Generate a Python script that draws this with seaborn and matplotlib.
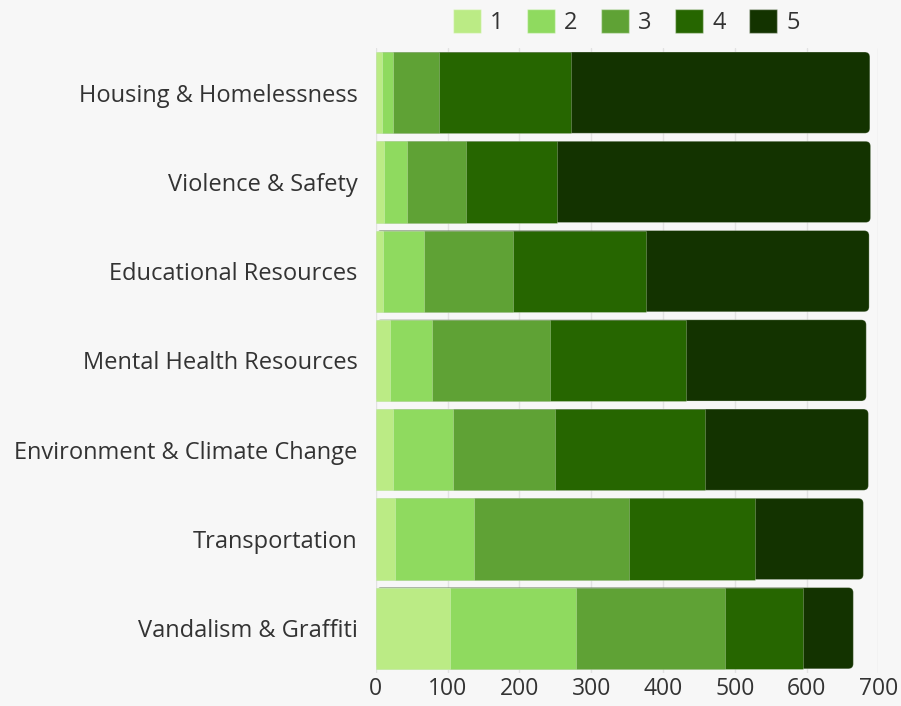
import numpy as np
import pandas as pd
import matplotlib
matplotlib.use("Agg")
import matplotlib.pyplot as plt
import seaborn as sns
from matplotlib.patches import FancyBboxPatch, Patch

categories = ["Housing & Homelessness", "Violence & Safety", "Educational Resources",
              "Mental Health Resources", "Environment & Climate Change",
              "Transportation", "Vandalism & Graffiti"]
ratings = ["1", "2", "3", "4", "5"]
r1 = [9, 12, 10, 20, 24, 27, 103]
r2 = [15, 31, 57, 58, 84, 110, 176]
r3 = [64, 83, 124, 165, 141, 216, 208]
r4 = [184, 126, 185, 189, 209, 175, 108]
r5 = [416, 437, 311, 251, 228, 151, 70]
colors = ["#bbeb85", "#8fda5f", "#5fa235", "#266600", "#133300"]
xticks = [0, 100, 200, 300, 400, 500, 600, 700]

sns.set_theme(style="white")
plt.rcParams["font.family"] = ["Open Sans", "DejaVu Sans"]
bg = "#f7f7f7"
txt = "#333333"

df = pd.DataFrame({"category": categories, "1": r1, "2": r2, "3": r3, "4": r4, "5": r5})
cum = df[ratings].cumsum(axis=1)

fig = plt.figure(figsize=(9.01, 7.06), dpi=100, facecolor=bg)
ax = fig.add_axes([0.417, 0.047, 0.558, 0.885])
ax.set_facecolor(bg)

# draw from total down so that each smaller cumulative sits on top
for i in range(4, -1, -1):
    sns.barplot(x=cum[ratings[i]], y=df["category"], color=colors[i], orient="h",
                width=0.91, ax=ax, edgecolor=(1, 1, 1, 0.25), linewidth=0.7,
                saturation=1, zorder=3 + (4 - i))

# round the right end of the total bars
total_container = ax.containers[0]
for p in total_container.patches:
    x0, y0 = p.get_x(), p.get_y()
    w, h = p.get_width(), p.get_height()
    p.set_visible(False)
    fb = FancyBboxPatch((x0, y0), w, h,
                        boxstyle="round,pad=0,rounding_size=7",
                        mutation_aspect=0.008, facecolor=colors[4],
                        edgecolor=(1, 1, 1, 0.25), linewidth=0.7, zorder=3)
    ax.add_patch(fb)

ax.set_xlim(0, 700)
ax.set_xticks(xticks)
ax.set_xticklabels([str(t) for t in xticks])
ax.set_xlabel("")
ax.set_ylabel("")
ax.grid(axis="x", color="#e2e2e2", linewidth=1, zorder=0)
ax.set_axisbelow(True)
for s in ax.spines.values():
    s.set_visible(False)
ax.tick_params(axis="y", length=0, labelsize=17, colors=txt, pad=13)
ax.tick_params(axis="x", length=0, labelsize=16.5, colors=txt, pad=3)

handles = [Patch(facecolor=c, edgecolor=(1, 1, 1, 0.4), label=r) for c, r in zip(colors, ratings)]
fig.legend(handles=handles, labels=ratings, loc="center", bbox_to_anchor=(0.695, 0.969),
           ncol=5, frameon=False, fontsize=17, handlelength=1.19, handleheight=1.19,
           handletextpad=0.38, columnspacing=1.0, labelcolor=txt)

fig.savefig("out.png", dpi=100, facecolor=bg)
